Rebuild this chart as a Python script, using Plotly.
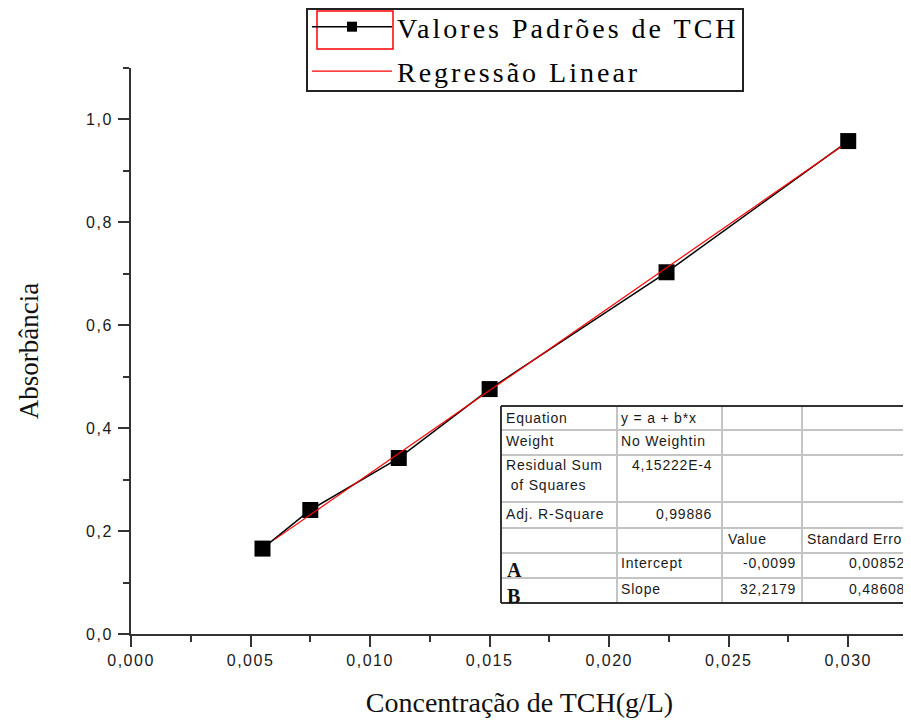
import plotly.graph_objects as go

# ---------------- data ----------------
conc = [0.0055, 0.0075, 0.0112, 0.0150, 0.0224, 0.0300]
absorb = [0.166, 0.241, 0.342, 0.476, 0.703, 0.958]
fit_intercept = -0.0099
fit_slope = 32.2179
fit_x = [0.0060, 0.0297]
fit_y = [fit_intercept + fit_slope * v for v in fit_x]

series_names = ["Valores Padrões de TCH", "Regressão Linear"]
x_title = "Concentração de TCH(g/L)"
y_title = "Absorbância"
x_tickvals = [0.000, 0.005, 0.010, 0.015, 0.020, 0.025, 0.030]
x_ticklabels = ["0,000", "0,005", "0,010", "0,015", "0,020", "0,025", "0,030"]
y_tickvals = [0.0, 0.2, 0.4, 0.6, 0.8, 1.0]
y_ticklabels = ["0,0", "0,2", "0,4", "0,6", "0,8", "1,0"]

table_labels = ["Equation", "Weight", "Residual Sum", " of Squares", "Adj. R-Square"]
table_values = ["y = a + b*x", "No Weightin", "4,15222E-4", "0,99886"]
param_header = ["Value", "Standard Erro"]
param_letters = ["A", "B"]
param_names = ["Intercept", "Slope"]
param_values = ["-0,0099", "32,2179"]
param_errors = ["0,00852", "0,48608"]

# ---------------- layout helpers ----------------
OFF = 8                      # page body margin of the html page
W, H = 903, 713
PL, PR, PT, PB = 131, 908, 68, 634   # plot area in page pixels


def px(x):
    return (x - PL) / (PR - PL)


def py(y):
    return (PB - y) / (PB - PT)


def sp(text, ls):
    return '<span style="letter-spacing:%spx">%s</span>' % (ls, text)


LEG_LS = 3.0
fig = go.Figure()
fig.add_trace(go.Scatter(
    x=conc, y=absorb, mode="lines+markers", name=series_names[0],
    line=dict(color="black", width=1.5),
    marker=dict(symbol="square", size=16, color="black"),
    showlegend=False,
))
fig.add_trace(go.Scatter(
    x=[None], y=[None], mode="lines+markers", name=sp(series_names[0], LEG_LS),
    line=dict(color="black", width=1.5), legendgroup="g1",
    marker=dict(symbol="square", size=10, color="black"),
    hoverinfo="skip",
))
fig.add_trace(go.Scatter(
    x=fit_x, y=fit_y, mode="lines", name=sp(series_names[1], LEG_LS),
    line=dict(color="#ff0000", width=1.2), legendgroup="g2",
))

tickfont = dict(family="Liberation Sans, Arial", size=16, color="#1a1a1a")
axis_common = dict(
    showline=True, linecolor="#333333", linewidth=2,
    ticks="outside", ticklen=11, tickwidth=2, tickcolor="#333333",
    showgrid=False, zeroline=False, tickfont=tickfont,
)

fig.update_layout(
    width=W, height=H,
    margin=dict(l=PL - OFF, r=(W + OFF) - PR, t=PT - OFF, b=(H + OFF) - PB,
                autoexpand=False),
    paper_bgcolor="white", plot_bgcolor="white",
    xaxis=dict(range=[0, 0.0325], tickmode="array", tickvals=x_tickvals,
               ticktext=[sp(t, 1.5) for t in x_ticklabels],
               minor=dict(dtick=0.0025, tick0=0, ticks="outside", ticklen=6,
                          tickwidth=2, tickcolor="#333333"),
               title=dict(text=x_title, standoff=24,
                          font=dict(family="Liberation Serif, Times New Roman", size=28, color="#111111")),
               **axis_common),
    yaxis=dict(range=[0, 1.1], tickmode="array", tickvals=y_tickvals,
               ticktext=[sp(t, 1.5) for t in y_ticklabels],
               ticklabelstandoff=2,
               minor=dict(dtick=0.1, tick0=0, ticks="outside", ticklen=6,
                          tickwidth=2, tickcolor="#333333"),
               title=dict(text=y_title, standoff=40,
                          font=dict(family="Liberation Serif, Times New Roman", size=27, color="#111111")),
               **axis_common),
    legend=dict(
        x=px(307), y=py(2), xanchor="left", yanchor="top",
        borderwidth=0, bgcolor="rgba(0,0,0,0)",
        font=dict(family="Liberation Serif, Times New Roman", size=28, color="black"),
        itemwidth=80, traceorder="grouped", tracegroupgap=5,
    ),
    showlegend=True,
)

shapes = []
# legend frame and red selection box around first sample
shapes.append(dict(type="rect", xref="paper", yref="paper",
                   x0=px(307), x1=px(743), y0=py(91), y1=py(9),
                   line=dict(color="#222222", width=2)))
shapes.append(dict(type="rect", xref="paper", yref="paper",
                   x0=px(317), x1=px(393), y0=py(49), y1=py(11),
                   line=dict(color="#ff0000", width=1.5)))

# ---------------- fit table ----------------
rows = [406, 430, 455, 502, 528, 553, 578, 603]
cols = [501, 617, 722, 802]
right_edge = 916
for r in rows[1:-1]:
    shapes.append(dict(type="line", xref="paper", yref="paper",
                       x0=px(cols[0]), x1=px(right_edge), y0=py(r), y1=py(r),
                       line=dict(color="#c4c4c4", width=2)))
for c in cols[1:]:
    shapes.append(dict(type="line", xref="paper", yref="paper",
                       x0=px(c), x1=px(c), y0=py(rows[0]), y1=py(rows[-1]),
                       line=dict(color="#c4c4c4", width=2)))
for r in (rows[0], rows[-1]):
    shapes.append(dict(type="line", xref="paper", yref="paper",
                       x0=px(cols[0]), x1=px(right_edge), y0=py(r), y1=py(r),
                       line=dict(color="#333333", width=2)))
shapes.append(dict(type="line", xref="paper", yref="paper",
                   x0=px(cols[0]), x1=px(cols[0]), y0=py(rows[0]), y1=py(rows[-1]),
                   line=dict(color="#333333", width=2)))
fig.update_layout(shapes=shapes)

tfont = dict(family="Liberation Sans, Arial", size=14, color="#1a1a1a")
LS = 0.8
ann = []


def cell(text, x, y, anchor="left", font=tfont, ls=LS):
    ann.append(dict(text=sp(text, ls) if ls else text, x=px(x), y=py(y),
                    xref="paper", yref="paper", xanchor=anchor, yanchor="middle",
                    showarrow=False, font=font))


label_y = [418, 441, 465, 485, 514]
for t, yy in zip(table_labels, label_y):
    cell(t, 504, yy)
cell(table_values[0], 619, 418)
cell(table_values[1], 619, 441)
cell(table_values[2], 714, 465, "right")
cell(table_values[3], 714, 514, "right")
cell(param_header[0], 726, 539)
cell(param_header[1], 805, 539, ls=0.6)
letter_font = dict(family="Liberation Serif, Times New Roman", size=20, color="#111111")
for i, yy in enumerate([563, 589]):
    cell(param_names[i], 619, yy)
    cell(param_values[i], 798, yy, "right")
    cell(param_errors[i], 907, yy, "right")
    cell("<b>%s</b>" % param_letters[i], 505, yy + 7, font=letter_font, ls=0)

fig.update_layout(annotations=ann)

fig.write_html("out.html")
